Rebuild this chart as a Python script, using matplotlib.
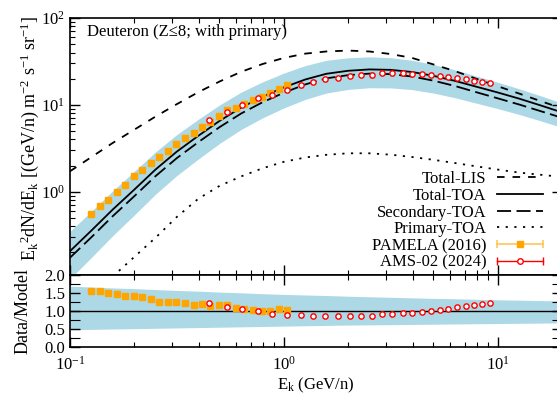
import matplotlib
matplotlib.use("Agg")
import matplotlib.pyplot as plt
from matplotlib.lines import Line2D
from matplotlib.legend_handler import HandlerLine2D
from matplotlib.ticker import MultipleLocator, FormatStrFormatter

plt.rcParams['font.family'] = ['Liberation Serif', 'DejaVu Serif']
plt.rcParams['mathtext.fontset'] = 'custom'
plt.rcParams['mathtext.rm'] = 'Liberation Serif'
plt.rcParams['mathtext.it'] = 'Liberation Serif:italic'
plt.rcParams['mathtext.default'] = 'regular'
plt.rcParams['axes.unicode_minus'] = False
plt.rcParams['font.size'] = 12

# model curves (GeV/n)
ek = [0.1, 0.126, 0.158, 0.2, 0.251, 0.316, 0.398, 0.501, 0.631, 0.794, 1.0, 1.26,
      1.58, 2.0, 2.51, 3.16, 3.98, 5.01, 6.31, 7.94, 10.0, 12.6, 15.8, 20.0]
total_lis = [1.72, 2.51, 3.63, 5.19, 7.33, 10.2, 14.0, 18.6, 24.0, 29.5, 34.7, 38.9,
             41.2, 42.2, 41.2, 38.5, 34.7, 29.2, 24.5, 20.0, 16.4, 13.5, 11.1, 9.1]
total_toa = [0.207, 0.358, 0.62, 1.06, 1.80, 2.90, 4.40, 6.55, 9.3, 12.4, 15.9, 19.6,
             22.8, 24.7, 25.6, 25.3, 23.9, 21.6, 18.9, 16.2, 13.9, 11.8, 9.9, 8.2]
secondary_toa = [0.174, 0.30, 0.52, 0.89, 1.51, 2.44, 3.72, 5.55, 7.95, 10.7, 13.8, 17.2,
                 20.2, 22.0, 22.9, 22.6, 21.2, 19.0, 16.5, 14.0, 11.9, 10.1, 8.5, 7.1]
primary_ek = ek[2:]
primary_toa = [0.105, 0.178, 0.295, 0.513, 0.83, 1.17, 1.50, 1.86, 2.21, 2.48,
               2.66, 2.77, 2.77, 2.67, 2.51, 2.33, 2.14, 1.96, 1.80, 1.66, 1.57, 1.48]
# model uncertainty band, relative to Total-TOA
band_hi = [1.69, 1.665, 1.64, 1.62, 1.595, 1.57, 1.55, 1.525, 1.505, 1.48, 1.46, 1.445,
           1.43, 1.41, 1.395, 1.38, 1.365, 1.35, 1.34, 1.325, 1.31, 1.30, 1.29, 1.28]
band_lo = [0.48, 0.49, 0.50, 0.51, 0.52, 0.53, 0.54, 0.55, 0.56, 0.57, 0.58, 0.59,
           0.60, 0.61, 0.615, 0.62, 0.627, 0.633, 0.64, 0.646, 0.652, 0.658, 0.664, 0.67]

# PAMELA (2016)
pam_ek = [0.125, 0.138, 0.151, 0.165, 0.181, 0.199, 0.217, 0.238, 0.260, 0.286, 0.313, 0.344,
          0.379, 0.414, 0.452, 0.497, 0.543, 0.597, 0.654, 0.715, 0.791, 0.862, 0.946, 1.031]
pam_flux = [0.548, 0.678, 0.81, 1.0, 1.21, 1.50, 1.79, 2.14, 2.50, 2.98, 3.53, 4.14,
            4.77, 5.63, 6.43, 7.53, 8.77, 9.24, 10.35, 11.4, 12.45, 13.8, 15.4, 16.8]
pam_ratio = [1.55, 1.55, 1.51, 1.47, 1.43, 1.43, 1.40, 1.32, 1.26, 1.25, 1.24, 1.21,
             1.18, 1.19, 1.15, 1.16, 1.17, 1.09, 1.06, 1.03, 1.01, 1.01, 1.05, 1.03]

# AMS-02 (2024)
ams_ek = [0.448, 0.540, 0.637, 0.756, 0.885, 1.033, 1.197, 1.371, 1.566, 1.795, 2.03, 2.29,
          2.58, 2.88, 3.22, 3.59, 3.99, 4.41, 4.88, 5.36, 5.88, 6.45, 7.09, 7.74, 8.48, 9.24]
ams_flux = [6.67, 8.24, 10.07, 12.0, 13.0, 15.0, 16.8, 18.4, 19.7, 20.6, 21.7, 22.3,
            21.9, 23.5, 23.3, 23.3, 22.7, 22.5, 22.1, 21.5, 21.0, 20.3, 19.7, 19.0, 18.4, 17.8]
ams_err = [0.27, 0.33, 0.40, 0.48, 0.52, 0.60, 0.67, 0.74, 0.79, 0.82, 0.87, 0.89,
           0.88, 0.94, 0.93, 0.93, 0.91, 0.90, 0.88, 0.86, 0.84, 0.81, 0.79, 0.76, 0.74, 0.71]
ams_ratio = [1.21, 1.12, 1.06, 1.01, 0.91, 0.90, 0.88, 0.87, 0.86, 0.87, 0.87, 0.87,
             0.85, 0.92, 0.925, 0.95, 0.95, 0.98, 1.01, 1.04, 1.06, 1.10, 1.13, 1.16, 1.19, 1.22]
ams_ratio_err = [0.04, 0.04, 0.04, 0.04, 0.04, 0.04, 0.04, 0.04, 0.04, 0.04, 0.04, 0.04, 0.04,
                 0.04, 0.04, 0.04, 0.04, 0.04, 0.04, 0.04, 0.04, 0.04, 0.04, 0.04, 0.04, 0.04]

band_color = '#add8e6'
lw = 1.3
ls_lis = (0, (4.2, 4.4))
ls_sec = (0, (7.8, 3.0))
ls_pri = (0, (1.2, 3.6))

fig = plt.figure(figsize=(5.57, 3.96), dpi=100)
ax1 = fig.add_axes([0.1257, 0.3056, 0.8833, 0.6489])
ax2 = fig.add_axes([0.1257, 0.1237, 0.8833, 0.1819], sharex=ax1)

# top panel
ax1.fill_between(ek, [m * r for m, r in zip(total_toa, band_lo)],
                 [m * r for m, r in zip(total_toa, band_hi)], color=band_color, lw=0)
ax1.plot(ek, total_lis, color='k', lw=lw, ls=ls_lis)
ax1.plot(ek, total_toa, color='k', lw=lw)
ax1.plot(ek, secondary_toa, color='k', lw=lw, ls=ls_sec)
ax1.plot(primary_ek, primary_toa, color='k', lw=lw, ls=ls_pri)
ax1.plot(pam_ek, pam_flux, 's', color='orange', ms=4.8, zorder=4)
ax1.errorbar(ams_ek, ams_flux, yerr=ams_err, fmt='o', color='red', mfc='white',
             ms=3.8, mew=1.0, elinewidth=0.9, capsize=1.3, zorder=5)

ax1.set_xscale('log')
ax1.set_yscale('log')
ax1.set_xlim(0.1, 20)
ax1.set_ylim(0.11, 100)
ax1.set_ylabel('E$_k$$^2$dN/dE$_k$ [(GeV/n) m$^{-2}$ s$^{-1}$ sr$^{-1}$]', fontsize=13)
ax1.yaxis.set_label_coords(-0.058, 0.53)
ax1.text(0.035, 0.945, 'Deuteron (Z≤8; with primary)', transform=ax1.transAxes,
         ha='left', va='center')

# legend with error-bar style handles
pam_bar = Line2D([], [], color='#ffc55a', lw=1.2, marker='|', ms=6, mew=1.2)
pam_pt = Line2D([], [], ls='none', marker='s', color='orange', ms=5)
ams_bar = Line2D([], [], color='red', lw=1.0, marker='|', ms=6, mew=1.0)
ams_pt = Line2D([], [], ls='none', marker='o', color='red', mfc='white', ms=4, mew=1.0)
handles = [
    Line2D([], [], color='k', lw=lw, ls=ls_lis),
    Line2D([], [], color='k', lw=lw),
    Line2D([], [], color='k', lw=lw, ls=ls_sec),
    Line2D([], [], color='k', lw=lw, ls=ls_pri),
    (pam_bar, pam_pt),
    (ams_bar, ams_pt),
]
labels = ['Total-LIS', 'Total-TOA', 'Secondary-TOA', 'Primary-TOA',
          'PAMELA (2016)', 'AMS-02 (2024)']
ax1.legend(handles, labels, loc='lower right', bbox_to_anchor=(0.961, 0.017),
           frameon=False, markerfirst=False, handlelength=2.75, handletextpad=0.65,
           labelspacing=0.04, borderpad=0, borderaxespad=0,
           handler_map={pam_bar: HandlerLine2D(numpoints=2, marker_pad=0),
                        ams_bar: HandlerLine2D(numpoints=2, marker_pad=0)})

# ratio panel
ax2.fill_between(ek, band_lo, band_hi, color=band_color, lw=0)
ax2.axhline(1.0, color='k', lw=1.0)
ax2.plot(pam_ek, pam_ratio, 's', color='orange', ms=4.8, zorder=4)
ax2.errorbar(ams_ek, ams_ratio, yerr=ams_ratio_err, fmt='o', color='red', mfc='white',
             ms=3.8, mew=1.0, elinewidth=0.9, capsize=1.3, zorder=5)
ax2.set_ylim(0, 2)
ax2.yaxis.set_major_locator(MultipleLocator(0.5))
ax2.yaxis.set_minor_locator(MultipleLocator(0.25))
ax2.yaxis.set_major_formatter(FormatStrFormatter('%.1f'))
ax2.set_ylabel('Data/Model', fontsize=13)
ax2.yaxis.set_label_coords(-0.079, 0.5)
ax2.set_xlabel('E$_k$ (GeV/n)')
ax2.xaxis.set_label_coords(0.5, -0.40)

for ax in (ax1, ax2):
    ax.tick_params(which='both', direction='in', top=True, right=True)
    ax.tick_params(which='major', length=7, width=1.0)
    ax.tick_params(which='minor', length=3.5, width=0.8)
    for sp in ax.spines.values():
        sp.set_linewidth(1.2)
ax1.tick_params(labelbottom=False)
ax2.tick_params(which='minor', axis='y', length=7)
ax2.tick_params(axis='x', pad=6)

fig.savefig('out.png', dpi=100)
